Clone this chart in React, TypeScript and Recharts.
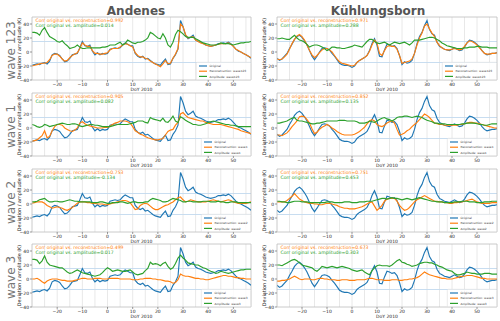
import React from 'react';
import { LineChart, Line, XAxis, YAxis, ReferenceLine, Legend } from 'recharts';

const FONT = 'DejaVu Sans';

// x categories (DoY 2010)
const daysA = [-30,-29,-28,-27,-26,-25,-24,-23,-22,-21,-20,-19,-18,-17,-16,-15,-14,-13,-12,-11,-10,-9,-8,-7,-6,-5,-4,-3,-2,-1,0,1,2,3,4,5,6,7,8,9,10,11,12,13,14,15,16,17,18,19,20,21,22,23,24,25,26,27,28,29,30,31,32,33,34,35,36,37,38,39,40,41,42,43,44,45,46,47,48,49,50,51,52,53,54,55,56,57];
const daysK = [-30,-29,-28,-27,-26,-25,-24,-23,-22,-21,-20,-19,-18,-17,-16,-15,-14,-13,-12,-11,-10,-9,-8,-7,-6,-5,-4,-3,-2,-1,0,1,2,3,4,5,6,7,8,9,10,11,12,13,14,15,16,17,18,19,20,21,22,23,24,25,26,27,28,29,30,31,32,33,34,35,36,37,38,39,40,41,42,43,44,45,46,47,48,49,50,51,52,53,54,55,56,57,58];

// Andenes
const origA = [-19,-18,-17,-18,-16,-15,-17,-13,-4,-2, -3,-5,-10,-14,-13,-9,-4,-3,-2,6, 15,9,8,10,1,-4,-1,-4,-2,-3, -2,4,5,6,5,6,10,13,11,9, 9,-2,-6,-8,-6,-10,-9,-12,-15,-17, -18,-19,-14,-10,-18,-17,-9,-4,4,45, 36,24,19,21,24,17,15,14,12,10, 9,8,9,10,12,12,13,12,14,12, 8,4,1,0,-2,-4,-6,-9];
const reconA123 = [-20,-19,-18,-17,-16,-16,-15,-11,-5,-3, -3,-6,-10,-13,-12,-8,-5,-3,-1,5, 13,10,8,8,2,-2,-2,-3,-3,-2, -1,3,5,5,5,7,10,12,11,9, 7,-1,-5,-7,-7,-9,-10,-13,-15,-17, -19,-21,-17,-12,-17,-16,-9,-3,5,40, 36,25,20,21,22,17,15,13,12,10, 9,8,9,10,11,12,12,12,13,11, 8,4,2,0,-2,-4,-6,-8];
const ampA123 = [28,28,27,24,31,35,28,22,20,18, 15,14,16,12,9,5,6,7,10,7, 5,5,6,6,6,6,6,6,7,7, 8,10,10,10,12,14,10,12,17,15, 13,12,14,14,15,17,20,28,26,23, 20,19,26,20,10,7,14,25,31,29, 26,22,21,21,21,19,17,15,13,12, 11,10,10,10,11,13,12,12,12,11, 10,11,12,13,13,14,14,15];
const reconA1 = [-19,-18,-17,-14,-11,-4,-14,-12,-4,2, 5,5,4,0,-2,-4,-5,-3,0,7, 9,6,4,3,2,1,0,0,0,1, 1,3,5,7,8,10,10,10,9,7, 2,-4,-6,-9,-10,-12,-14,-15,-16,-17, -17,-16,-15,-10,-5,-3,-2,4,8,20, 22,18,15,14,13,12,11,10,10,8, 7,6,5,5,5,5,4,3,2,1, 0,-1,-2,-4,-5,-6,-7,-8];
const ampA1 = [5,4,2,1,2,5,4,2,3,4, 5,6,7,6,5,5,6,6,5,3, 2,3,4,5,5,4,4,3,2,2, 2,2,3,4,5,5,5,5,5,6, 7,8,10,10,10,8,7,15,13,12, 11,10,14,9,8,12,17,10,8,16, 14,11,9,7,5,5,4,4,5,6, 8,9,10,9,8,7,6,5,5,4, 4,3,2,2,2,2,2,2];
const reconA2 = [1,2,3,3,3,1,-2,-4,-6,-5, -4,-5,-6,-8,-9,-7,-5,-2,1,3, 3,3,2,2,1,1,0,0,0,-1, -1,0,1,2,3,4,5,5,4,2, -3,-8,-7,-2,0,1,0,-3,-6,-8, -8,-6,-4,-2,-1,1,3,6,9,10, 6,3,4,6,5,4,3,3,3,3, 4,5,6,5,4,3,4,5,6,5, 3,2,1,1,1,1,2,3];
const ampA2 = [3,3,4,6,7,8,5,3,3,4, 4,3,3,4,5,6,5,4,4,3, 3,3,3,3,2,2,2,3,3,2, 1,1,2,2,2,3,3,2,1,2, 3,3,2,2,2,3,3,6,8,7, 6,5,3,3,4,6,8,7,6,5, 3,3,4,4,3,3,3,3,4,4, 4,3,3,3,4,3,3,2,2,3, 3,3,2,2,2,2,2,2];
const reconA3 = [0,0,1,-1,-4,-6,-3,-1,0,0, 0,-1,-2,-2,-3,-3,-3,-2,-1,0, 1,1,0,0,0,1,1,1,0,0, 0,1,1,1,1,0,0,0,0,0, -1,-1,-1,0,0,1,1,1,0,0, -1,-1,-2,-3,-3,-4,-6,-5,-1,7, 5,4,4,3,2,1,1,0,0,-1, -1,0,1,2,3,4,5,5,4,4, 3,2,2,1,1,0,0,0];
const ampA3 = [28,28,27,22,26,33,24,20,19,18, 17,16,16,13,10,8,9,11,13,11, 9,8,7,6,5,4,5,6,9,13, 16,14,11,12,13,12,11,11,12,13, 10,7,6,7,8,12,15,24,21,22, 21,19,22,24,18,14,16,22,30,34, 30,27,23,22,21,20,20,18,16,15, 13,11,10,8,9,11,10,9,8,9, 10,11,12,13,13,14,14,14];

// Kühlungsborn
const origK = [-9,-12,-10,-6,-2,5,11,18,22,24, 21,16,10,2,-6,-11,-6,0,5,6, 5,3,-2,-6,-11,-16,-18,-19,-19,-20, -22,-20,-15,-12,-10,-8,-5,2,12,19, 10,-6,-7,3,11,10,8,9,5,-5, -18,-14,-16,-15,-12,-2,12,22,28,38, 45,32,26,24,14,8,6,4,3,2, 4,6,4,2,3,7,13,17,16,14, 11,7,2,-2,-4,-3,-2,-2,-1];
const reconK123 = [-10,-11,-10,-7,-3,4,12,18,23,25, 22,17,10,2,-4,-8,-5,-1,3,5, 5,3,0,-5,-10,-14,-16,-17,-18,-19, -20,-19,-15,-12,-10,-8,-5,1,10,17, 13,-2,-5,2,8,9,8,8,4,-5, -16,-15,-14,-13,-10,-2,10,20,27,37, 40,33,27,22,14,9,6,4,3,3, 4,5,4,3,4,8,13,16,15,13, 10,6,2,-2,-3,-3,-2,-2,-1];
const ampK123 = [19,19,20,19,18,18,21,24,20,17, 16,14,11,7,9,10,10,9,7,5, 2,4,7,7,6,6,5,5,6,7, 8,10,9,8,7,11,15,18,18,15, 13,12,13,14,12,10,12,14,13,12, 13,14,12,10,13,17,17,17,18,19, 20,21,21,20,18,16,13,11,9,8, 7,6,5,5,5,6,6,7,7,7, 8,8,7,7,7,6,6,6,6];
const reconK1 = [-10,-10,-11,-9,-7,-3,2,6,10,16, 17,16,12,7,-1,-8,-6,-2,1,3, 5,3,0,-2,-5,-7,-9,-10,-10,-10, -10,-9,-7,-5,-2,1,6,10,12,10, 5,3,2,4,7,9,10,7,-2,-10, -9,-7,-4,-2,2,5,8,12,16,20, 18,15,11,7,6,5,5,4,4,4, 4,4,4,5,5,6,7,8,8,7, 7,6,5,4,3,2,1,0,0];
const ampK1 = [7,7,8,9,10,12,14,15,11,10, 10,9,8,7,6,6,7,7,8,9, 10,10,10,10,10,11,11,11,10,10, 10,10,9,7,7,7,8,10,9,8, 10,12,14,15,13,12,10,12,15,16, 16,17,17,16,15,16,17,16,15,13, 11,10,9,7,7,6,6,6,5,5, 5,5,5,5,6,6,7,7,7,7, 6,5,5,4,4,5,6,6,6];
const reconK2 = [3,3,3,3,5,8,11,15,11,7, 5,3,2,1,1,0,0,-1,-1,0, 1,1,0,-1,-2,-4,-5,-6,-6,-7, -7,-7,-6,-5,-4,-2,0,2,3,-3, -9,-6,-2,4,7,8,8,8,4,-2, -6,-9,-8,-5,-1,3,6,8,10,12, 10,8,6,4,4,3,3,2,2,1, 1,2,2,3,3,4,5,6,7,5, 3,2,1,1,1,1,2,2,2];
const ampK2 = [4,4,3,3,2,2,3,4,4,4, 3,3,3,2,2,2,2,2,2,2, 3,3,3,2,2,2,2,3,3,3, 2,2,2,3,3,3,4,4,4,5, 6,7,8,8,7,8,9,8,8,7, 6,7,8,7,6,7,8,9,8,7, 6,5,4,4,3,3,3,2,2,2, 2,3,3,3,4,4,4,3,3,3, 2,2,2,3,3,3,4,4,4];
const reconK3 = [-3,-3,-2,-2,-1,0,2,4,2,0, -1,0,0,0,-1,-1,0,1,1,0, 0,-1,-1,-1,-2,-2,-1,-1,-1,-2, -2,-2,-1,-1,-1,-1,0,1,1,0, -1,-1,-1,-2,-2,-2,-1,-1,-1,-2, -2,-1,-1,0,0,1,2,4,7,10, 8,6,5,4,3,2,1,1,0,0, 0,1,2,3,4,4,5,5,5,4, 3,2,1,1,0,0,0,0,0];
const ampK3 = [20,20,19,21,23,25,27,28,26,23, 20,19,18,17,16,13,11,14,18,17, 16,17,18,17,16,17,18,17,16,15, 13,12,11,12,13,10,8,6,12,16, 19,20,19,19,19,18,20,23,26,28, 24,23,21,20,18,19,20,22,23,24, 24,23,23,21,20,18,17,15,13,12, 11,8,6,6,7,8,10,9,8,8, 7,7,7,8,8,8,7,7,7];

const stations = ['Andenes', 'Kühlungsborn'];
const waves = ['wave123', 'wave1', 'wave2', 'wave3'];
const rowLabels = ['wave 123', 'wave 1', 'wave 2', 'wave 3'];
const corrReconA = ['0.992', '0.905', '0.753', '0.499'];
const corrAmpA = ['0.014', '0.082', '-0.134', '0.017'];
const corrReconK = ['0.971', '0.852', '0.751', '0.673'];
const corrAmpK = ['0.288', '0.135', '0.453', '0.303'];
const xTicks = [-20, -10, 0, 10, 20, 30, 40, 50];
const yTicks = [-40, -20, 0, 20, 40];
const gridDays = [-25, -20, -15, -10, -5, 0, 5, 10, 15, 20, 25, 30, 35, 40, 45, 50, 55];
const seriesOrder = ['orig', 'recon', 'amp'];

const reconByCol = [[reconA123, reconA1, reconA2, reconA3], [reconK123, reconK1, reconK2, reconK3]];
const ampByCol = [[ampA123, ampA1, ampA2, ampA3], [ampK123, ampK1, ampK2, ampK3]];
const origByCol = [origA, origK];
const daysByCol = [daysA, daysK];
const corrRecon = [corrReconA, corrReconK];
const corrAmp = [corrAmpA, corrAmpK];

// layout
const COLS = [
  { plotLeft: 32, plotRight: 251, domain: [-30, 57], titleX: 136, ylabX: 21.3 },
  { plotLeft: 277, plotRight: 497, domain: [-30, 58], titleX: 378, ylabX: 266 },
];
const ROW_TOPS = [17, 93, 169, 244];
const PLOT_H = 63;
const Y_W = 32;
const M_T = 3;
const M_R = 2;
const X_H = 14;

const C_BLUE = '#1f77b4';
const C_ORANGE = '#ff7f0e';
const C_GREEN = '#2ca02c';

const fmt = (v: number) => (v < 0 ? '\u2212' + Math.abs(v) : String(v));

const makeLegend = (w: number) => (props: any) => {
  const raw = (props && props.payload) || [];
  const payload = [...raw].sort(
    (a: any, b: any) => seriesOrder.indexOf(String(a.dataKey)) - seriesOrder.indexOf(String(b.dataKey))
  );
  return (
    <svg width={w} height={18} style={{ display: 'block', overflow: 'visible' }}>
      <rect x={0.3} y={0.3} width={w - 0.6} height={17.4} rx={1} fill="#ffffff" fillOpacity={0.85} stroke="#d6d6d6" strokeWidth={0.5} />
      {payload.map((p: any, i: number) => (
        <g key={i}>
          <line x1={3} x2={11} y1={4 + i * 5.2} y2={4 + i * 5.2} stroke={p.color} strokeWidth={1.2} />
          <text x={13.5} y={5.1 + i * 5.2} fontSize={2.9} fontFamily={FONT} fill="#333">{p.value}</text>
        </g>
      ))}
    </svg>
  );
};

function Panel({ col, row }: { col: number; row: number }) {
  const c = COLS[col];
  const days = daysByCol[col];
  const orig = origByCol[col];
  const recon = reconByCol[col][row];
  const amp = ampByCol[col][row];
  const data = days.map((d, i) => ({ day: d, orig: orig[i], recon: recon[i], amp: amp[i] }));
  const plotW = c.plotRight - c.plotLeft;
  const width = Y_W + plotW + M_R;
  const height = M_T + PLOT_H + X_H;
  const legW = row === 0 ? 55 : 50;
  const tickStyle = { fontSize: 4.5, fill: '#222', fontFamily: FONT };
  return (
    <div style={{ position: 'absolute', left: c.plotLeft - Y_W, top: ROW_TOPS[row] - M_T, width, height }}>
      <LineChart width={width} height={height} data={data} margin={{ top: M_T, right: M_R, left: 0, bottom: 0 }}>
        <XAxis
          type="number"
          dataKey="day"
          domain={c.domain}
          ticks={xTicks}
          interval={0}
          allowDataOverflow
          height={X_H}
          tick={tickStyle}
          tickSize={2}
          tickMargin={1}
          tickLine={{ stroke: '#555', strokeWidth: 0.6 }}
          axisLine={{ stroke: '#bdbdbd', strokeWidth: 0.8 }}
          tickFormatter={fmt}
        />
        <YAxis
          type="number"
          domain={[-40, 50]}
          ticks={yTicks}
          interval={0}
          allowDataOverflow
          width={Y_W}
          tick={tickStyle}
          tickSize={2}
          tickMargin={1}
          tickLine={{ stroke: '#555', strokeWidth: 0.6 }}
          axisLine={{ stroke: '#bdbdbd', strokeWidth: 0.8 }}
          tickFormatter={fmt}
        />
        {gridDays.map((g) => (
          <ReferenceLine key={'g' + g} x={g} stroke="#e2e2e2" strokeWidth={0.8} />
        ))}
        <ReferenceLine y={15} stroke="#c2d9ee" strokeWidth={0.9} />
        <ReferenceLine y={-15} stroke="#c2d9ee" strokeWidth={0.9} />
        <ReferenceLine y={50} stroke="#bdbdbd" strokeWidth={0.8} />
        <ReferenceLine x={c.domain[1]} stroke="#bdbdbd" strokeWidth={0.8} />
        <Line type="linear" dataKey="orig" name="Original" stroke={C_BLUE} strokeWidth={1.15} dot={false} isAnimationActive={false} />
        <Line type="linear" dataKey="recon" name={'Reconstruction: ' + waves[row]} stroke={C_ORANGE} strokeWidth={1.15} dot={false} isAnimationActive={false} />
        <Line type="linear" dataKey="amp" name={'Amplitude: ' + waves[row]} stroke={C_GREEN} strokeWidth={1.15} dot={false} isAnimationActive={false} />
        <Legend
          layout="vertical"
          align="center"
          verticalAlign="middle"
          content={makeLegend(legW)}
          wrapperStyle={{ left: Y_W + plotW - legW - 0.5, top: M_T + PLOT_H - 18.5, width: legW, height: 18, margin: 0, padding: 0, lineHeight: 0 }}
        />
      </LineChart>
    </div>
  );
}

export default function App() {
  const panels: React.ReactNode[] = [];
  for (let col = 0; col < 2; col++) {
    for (let row = 0; row < 4; row++) {
      panels.push(<Panel key={col + '-' + row} col={col} row={row} />);
    }
  }
  return (
    <div style={{ position: 'absolute', left: 0, top: 0, width: 500, height: 321, background: '#ffffff', overflow: 'hidden' }}>
      {panels}
      <svg width={500} height={321} style={{ position: 'absolute', left: 0, top: 0, pointerEvents: 'none' }}>
        {stations.map((s, col) => (
          <text key={s} x={COLS[col].titleX} y={15} textAnchor="middle" fontSize={12} fontWeight="bold" fontFamily={FONT} fill="#555">
            {s}
          </text>
        ))}
        {rowLabels.map((r, row) => (
          <text
            key={r}
            transform={`translate(15, ${ROW_TOPS[row] + PLOT_H / 2 + 2}) rotate(-90)`}
            textAnchor="middle"
            fontSize={12}
            fontFamily={FONT}
            fill="#777"
          >
            {r}
          </text>
        ))}
        {COLS.map((c, col) =>
          ROW_TOPS.map((top, row) => (
            <g key={col + '_' + row}>
              <text
                transform={`translate(${c.ylabX}, ${top + PLOT_H / 2}) rotate(-90)`}
                textAnchor="middle"
                fontSize={4.9}
                fontFamily={FONT}
                fill="#222"
              >
                Deviation / amplitude (K)
              </text>
              <text x={(c.plotLeft + c.plotRight) / 2} y={top + PLOT_H + 10.5} textAnchor="middle" fontSize={4.5} fontFamily={FONT} fill="#222">
                DoY 2010
              </text>
              <text x={c.plotLeft + 3.5} y={top + 4.8} fontSize={4.6} fontFamily={FONT} fill={C_ORANGE}>
                {'Corr original vs. reconstruction=' + corrRecon[col][row]}
              </text>
              <text x={c.plotLeft + 3.5} y={top + 9.8} fontSize={4.6} fontFamily={FONT} fill={C_GREEN}>
                {'Corr original vs. amplitude=' + corrAmp[col][row]}
              </text>
            </g>
          ))
        )}
      </svg>
    </div>
  );
}
